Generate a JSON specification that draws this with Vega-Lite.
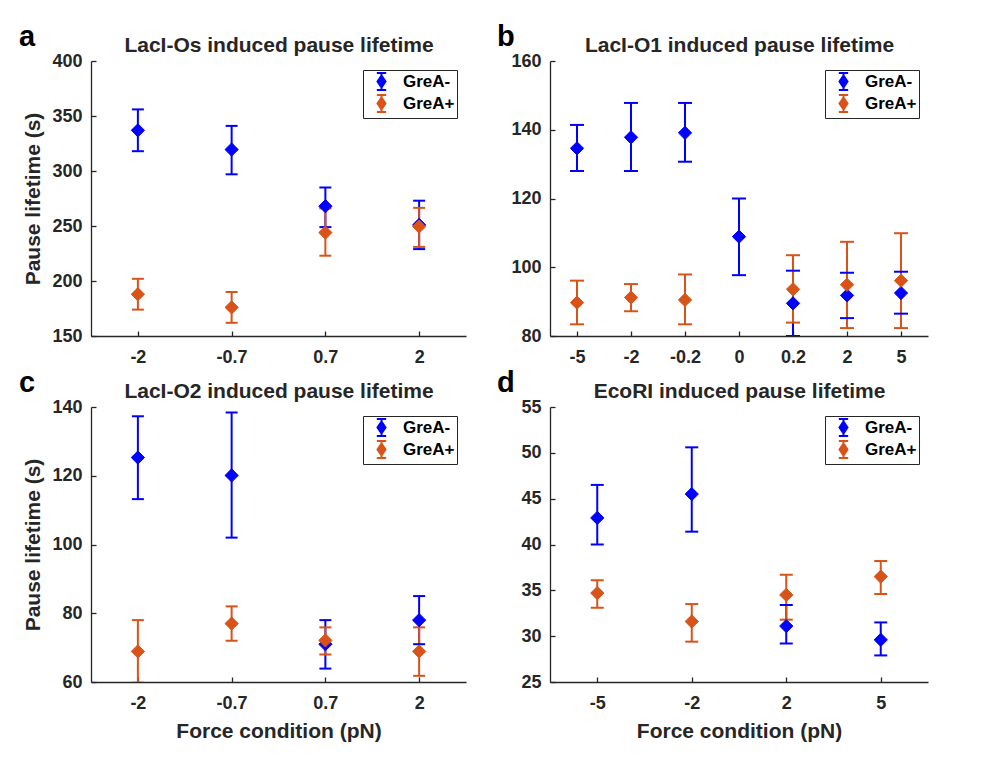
{
  "$schema": "https://vega.github.io/schema/vega-lite/v6.json",
  "background": "white",
  "padding": {"left": 19, "top": 23, "right": 5, "bottom": 5},
  "datasets": {
    "all": [
      {"panel": "a", "group": "GreA-", "force": "-2", "mean": 337, "lo": 318, "hi": 356},
      {"panel": "a", "group": "GreA-", "force": "-0.7", "mean": 319.5, "lo": 297, "hi": 341},
      {"panel": "a", "group": "GreA-", "force": "0.7", "mean": 268, "lo": 249, "hi": 285},
      {"panel": "a", "group": "GreA-", "force": "2", "mean": 251, "lo": 229, "hi": 273},
      {"panel": "a", "group": "GreA+", "force": "-2", "mean": 188, "lo": 174, "hi": 202},
      {"panel": "a", "group": "GreA+", "force": "-0.7", "mean": 176, "lo": 162, "hi": 190},
      {"panel": "a", "group": "GreA+", "force": "0.7", "mean": 244, "lo": 223, "hi": 266},
      {"panel": "a", "group": "GreA+", "force": "2", "mean": 249.5, "lo": 231, "hi": 266.5},
      {"panel": "b", "group": "GreA-", "force": "-5", "mean": 134.6, "lo": 128, "hi": 141.4},
      {"panel": "b", "group": "GreA-", "force": "-2", "mean": 137.8, "lo": 128, "hi": 147.8},
      {"panel": "b", "group": "GreA-", "force": "-0.2", "mean": 139.1, "lo": 130.7, "hi": 147.8},
      {"panel": "b", "group": "GreA-", "force": "0", "mean": 108.9, "lo": 97.7, "hi": 120},
      {"panel": "b", "group": "GreA-", "force": "0.2", "mean": 89.5, "lo": 80, "hi": 99},
      {"panel": "b", "group": "GreA-", "force": "2", "mean": 91.8, "lo": 85.2, "hi": 98.4},
      {"panel": "b", "group": "GreA-", "force": "5", "mean": 92.5, "lo": 86.5, "hi": 98.7},
      {"panel": "b", "group": "GreA+", "force": "-5", "mean": 89.7, "lo": 83.4, "hi": 96.1},
      {"panel": "b", "group": "GreA+", "force": "-2", "mean": 91.2, "lo": 87.2, "hi": 95.1},
      {"panel": "b", "group": "GreA+", "force": "-0.2", "mean": 90.5, "lo": 83.4, "hi": 97.9},
      {"panel": "b", "group": "GreA+", "force": "0.2", "mean": 93.6, "lo": 83.9, "hi": 103.5},
      {"panel": "b", "group": "GreA+", "force": "2", "mean": 94.9, "lo": 82.3, "hi": 107.4},
      {"panel": "b", "group": "GreA+", "force": "5", "mean": 96.1, "lo": 82.3, "hi": 109.9},
      {"panel": "c", "group": "GreA-", "force": "-2", "mean": 125.3, "lo": 113.2, "hi": 137.3},
      {"panel": "c", "group": "GreA-", "force": "-0.7", "mean": 120.1, "lo": 102, "hi": 138.4},
      {"panel": "c", "group": "GreA-", "force": "0.7", "mean": 71, "lo": 63.9, "hi": 78},
      {"panel": "c", "group": "GreA-", "force": "2", "mean": 78, "lo": 71, "hi": 85},
      {"panel": "c", "group": "GreA+", "force": "-2", "mean": 68.9, "lo": 59.8, "hi": 78},
      {"panel": "c", "group": "GreA+", "force": "-0.7", "mean": 77, "lo": 72, "hi": 82},
      {"panel": "c", "group": "GreA+", "force": "0.7", "mean": 72.1, "lo": 68, "hi": 75.9},
      {"panel": "c", "group": "GreA+", "force": "2", "mean": 68.9, "lo": 61.8, "hi": 75.9},
      {"panel": "d", "group": "GreA-", "force": "-5", "mean": 42.9, "lo": 40, "hi": 46.5},
      {"panel": "d", "group": "GreA-", "force": "-2", "mean": 45.5, "lo": 41.4, "hi": 50.6},
      {"panel": "d", "group": "GreA-", "force": "2", "mean": 31.1, "lo": 29.2, "hi": 33.4},
      {"panel": "d", "group": "GreA-", "force": "5", "mean": 29.6, "lo": 27.9, "hi": 31.5},
      {"panel": "d", "group": "GreA+", "force": "-5", "mean": 34.7, "lo": 33.1, "hi": 36.1},
      {"panel": "d", "group": "GreA+", "force": "-2", "mean": 31.6, "lo": 29.4, "hi": 33.5},
      {"panel": "d", "group": "GreA+", "force": "2", "mean": 34.5, "lo": 31.8, "hi": 36.7},
      {"panel": "d", "group": "GreA+", "force": "5", "mean": 36.5, "lo": 34.6, "hi": 38.2}
    ]
  },
  "data": {"name": "all"},
  "columns": 2,
  "bounds": "flush",
  "spacing": {"column": 84, "row": 71},
  "resolve": {
    "scale": {"x": "independent", "y": "independent", "fill": "independent", "stroke": "independent"},
    "legend": {"fill": "independent", "stroke": "independent"}
  },
  "concat": [
    {
      "width": 375, "height": 275,
      "title": {"text": "a", "dx": -72},
      "transform": [{"filter": "datum.panel === 'a'"}],
      "resolve": {"axis": {"x": "independent"}},
      "layer": [
        {"mark": {"type": "rule", "strokeWidth": 2, "clip": true},
         "encoding": {
           "x": {"field": "force", "type": "ordinal", "sort": ["-2", "-0.7", "0.7", "2"], "scale": {"type": "point", "padding": 0.5},
                 "axis": {"orient": "top", "domain": false, "ticks": false, "labels": false, "title": "LacI-Os induced pause lifetime", "titlePadding": 6}},
           "y": {"field": "lo", "type": "quantitative", "title": "Pause lifetime (s)", "scale": {"domain": [150, 400], "nice": false, "zero": false}, "axis": {"values": [150, 200, 250, 300, 350, 400]}},
           "y2": {"field": "hi"},
           "stroke": {"field": "group", "type": "nominal", "scale": {"domain": ["GreA-", "GreA+"], "range": ["#0000ff", "#d95319"]},
                      "legend": {"title": null, "orient": "top-right", "offset": 9, "symbolType": "M-0.55,-1H0.55M0,-1V1M-0.55,1H0.55M0,-0.7L0.47,0L0,0.7L-0.47,0Z"}}}},
        {"mark": {"type": "tick", "thickness": 2, "size": 12, "opacity": 1, "clip": true},
         "encoding": {
           "x": {"field": "force", "type": "ordinal", "sort": ["-2", "-0.7", "0.7", "2"], "scale": {"type": "point", "padding": 0.5}, "axis": {"title": null}},
           "y": {"field": "lo", "type": "quantitative", "title": "Pause lifetime (s)", "scale": {"domain": [150, 400], "nice": false, "zero": false}, "axis": {"values": [150, 200, 250, 300, 350, 400]}},
           "fill": {"field": "group", "type": "nominal", "scale": {"domain": ["GreA-", "GreA+"], "range": ["#0000ff", "#d95319"]},
                    "legend": {"title": null, "orient": "top-right", "offset": 9, "symbolType": "M-0.55,-1H0.55M0,-1V1M-0.55,1H0.55M0,-0.7L0.47,0L0,0.7L-0.47,0Z"}}}},
        {"mark": {"type": "tick", "thickness": 2, "size": 12, "opacity": 1, "clip": true},
         "encoding": {
           "x": {"field": "force", "type": "ordinal", "sort": ["-2", "-0.7", "0.7", "2"], "scale": {"type": "point", "padding": 0.5}, "axis": null},
           "y": {"field": "hi", "type": "quantitative", "title": "Pause lifetime (s)", "scale": {"domain": [150, 400], "nice": false, "zero": false}, "axis": {"values": [150, 200, 250, 300, 350, 400]}},
           "fill": {"field": "group", "type": "nominal", "scale": {"domain": ["GreA-", "GreA+"], "range": ["#0000ff", "#d95319"]},
                    "legend": {"title": null, "orient": "top-right", "offset": 9, "symbolType": "M-0.55,-1H0.55M0,-1V1M-0.55,1H0.55M0,-0.7L0.47,0L0,0.7L-0.47,0Z"}}}},
        {"mark": {"type": "point", "shape": "diamond", "size": 175, "opacity": 1, "strokeWidth": 1},
         "encoding": {
           "x": {"field": "force", "type": "ordinal", "sort": ["-2", "-0.7", "0.7", "2"], "scale": {"type": "point", "padding": 0.5}, "axis": null},
           "y": {"field": "mean", "type": "quantitative", "title": "Pause lifetime (s)", "scale": {"domain": [150, 400], "nice": false, "zero": false}, "axis": {"values": [150, 200, 250, 300, 350, 400]}},
           "fill": {"field": "group", "type": "nominal", "scale": {"domain": ["GreA-", "GreA+"], "range": ["#0000ff", "#d95319"]},
                    "legend": {"title": null, "orient": "top-right", "offset": 9, "symbolType": "M-0.55,-1H0.55M0,-1V1M-0.55,1H0.55M0,-0.7L0.47,0L0,0.7L-0.47,0Z"}},
           "stroke": {"field": "group", "type": "nominal", "scale": {"domain": ["GreA-", "GreA+"], "range": ["#0000ff", "#d95319"]},
                    "legend": {"title": null, "orient": "top-right", "offset": 9, "symbolType": "M-0.55,-1H0.55M0,-1V1M-0.55,1H0.55M0,-0.7L0.47,0L0,0.7L-0.47,0Z"}}}}
      ]
    },
    {
      "width": 378, "height": 275,
      "title": {"text": "b", "dx": -53},
      "transform": [{"filter": "datum.panel === 'b'"}],
      "resolve": {"axis": {"x": "independent"}},
      "layer": [
        {"mark": {"type": "rule", "strokeWidth": 2, "clip": true},
         "encoding": {
           "x": {"field": "force", "type": "ordinal", "sort": ["-5", "-2", "-0.2", "0", "0.2", "2", "5"], "scale": {"type": "point", "padding": 0.5},
                 "axis": {"orient": "top", "domain": false, "ticks": false, "labels": false, "title": "LacI-O1 induced pause lifetime", "titlePadding": 6}},
           "y": {"field": "lo", "type": "quantitative", "title": null, "scale": {"domain": [80, 160], "nice": false, "zero": false}, "axis": {"values": [80, 100, 120, 140, 160]}},
           "y2": {"field": "hi"},
           "stroke": {"field": "group", "type": "nominal", "scale": {"domain": ["GreA-", "GreA+"], "range": ["#0000ff", "#d95319"]},
                      "legend": {"title": null, "orient": "top-right", "offset": 9, "symbolType": "M-0.55,-1H0.55M0,-1V1M-0.55,1H0.55M0,-0.7L0.47,0L0,0.7L-0.47,0Z"}}}},
        {"mark": {"type": "tick", "thickness": 2, "size": 14, "opacity": 1, "clip": true},
         "encoding": {
           "x": {"field": "force", "type": "ordinal", "sort": ["-5", "-2", "-0.2", "0", "0.2", "2", "5"], "scale": {"type": "point", "padding": 0.5}, "axis": {"title": null}},
           "y": {"field": "lo", "type": "quantitative", "title": null, "scale": {"domain": [80, 160], "nice": false, "zero": false}, "axis": {"values": [80, 100, 120, 140, 160]}},
           "fill": {"field": "group", "type": "nominal", "scale": {"domain": ["GreA-", "GreA+"], "range": ["#0000ff", "#d95319"]},
                    "legend": {"title": null, "orient": "top-right", "offset": 9, "symbolType": "M-0.55,-1H0.55M0,-1V1M-0.55,1H0.55M0,-0.7L0.47,0L0,0.7L-0.47,0Z"}}}},
        {"mark": {"type": "tick", "thickness": 2, "size": 14, "opacity": 1, "clip": true},
         "encoding": {
           "x": {"field": "force", "type": "ordinal", "sort": ["-5", "-2", "-0.2", "0", "0.2", "2", "5"], "scale": {"type": "point", "padding": 0.5}, "axis": null},
           "y": {"field": "hi", "type": "quantitative", "title": null, "scale": {"domain": [80, 160], "nice": false, "zero": false}, "axis": {"values": [80, 100, 120, 140, 160]}},
           "fill": {"field": "group", "type": "nominal", "scale": {"domain": ["GreA-", "GreA+"], "range": ["#0000ff", "#d95319"]},
                    "legend": {"title": null, "orient": "top-right", "offset": 9, "symbolType": "M-0.55,-1H0.55M0,-1V1M-0.55,1H0.55M0,-0.7L0.47,0L0,0.7L-0.47,0Z"}}}},
        {"mark": {"type": "point", "shape": "diamond", "size": 175, "opacity": 1, "strokeWidth": 1},
         "encoding": {
           "x": {"field": "force", "type": "ordinal", "sort": ["-5", "-2", "-0.2", "0", "0.2", "2", "5"], "scale": {"type": "point", "padding": 0.5}, "axis": null},
           "y": {"field": "mean", "type": "quantitative", "title": null, "scale": {"domain": [80, 160], "nice": false, "zero": false}, "axis": {"values": [80, 100, 120, 140, 160]}},
           "fill": {"field": "group", "type": "nominal", "scale": {"domain": ["GreA-", "GreA+"], "range": ["#0000ff", "#d95319"]},
                    "legend": {"title": null, "orient": "top-right", "offset": 9, "symbolType": "M-0.55,-1H0.55M0,-1V1M-0.55,1H0.55M0,-0.7L0.47,0L0,0.7L-0.47,0Z"}},
           "stroke": {"field": "group", "type": "nominal", "scale": {"domain": ["GreA-", "GreA+"], "range": ["#0000ff", "#d95319"]},
                    "legend": {"title": null, "orient": "top-right", "offset": 9, "symbolType": "M-0.55,-1H0.55M0,-1V1M-0.55,1H0.55M0,-0.7L0.47,0L0,0.7L-0.47,0Z"}}}}
      ]
    },
    {
      "width": 375, "height": 275,
      "title": {"text": "c", "dx": -72},
      "transform": [{"filter": "datum.panel === 'c'"}],
      "resolve": {"axis": {"x": "independent"}},
      "layer": [
        {"mark": {"type": "rule", "strokeWidth": 2, "clip": true},
         "encoding": {
           "x": {"field": "force", "type": "ordinal", "sort": ["-2", "-0.7", "0.7", "2"], "scale": {"type": "point", "padding": 0.5},
                 "axis": {"orient": "top", "domain": false, "ticks": false, "labels": false, "title": "LacI-O2 induced pause lifetime", "titlePadding": 6}},
           "y": {"field": "lo", "type": "quantitative", "title": "Pause lifetime (s)", "scale": {"domain": [60, 140], "nice": false, "zero": false}, "axis": {"values": [60, 80, 100, 120, 140]}},
           "y2": {"field": "hi"},
           "stroke": {"field": "group", "type": "nominal", "scale": {"domain": ["GreA-", "GreA+"], "range": ["#0000ff", "#d95319"]},
                      "legend": {"title": null, "orient": "top-right", "offset": 9, "symbolType": "M-0.55,-1H0.55M0,-1V1M-0.55,1H0.55M0,-0.7L0.47,0L0,0.7L-0.47,0Z"}}}},
        {"mark": {"type": "tick", "thickness": 2, "size": 12, "opacity": 1, "clip": true},
         "encoding": {
           "x": {"field": "force", "type": "ordinal", "sort": ["-2", "-0.7", "0.7", "2"], "scale": {"type": "point", "padding": 0.5}, "axis": {"title": "Force condition (pN)"}},
           "y": {"field": "lo", "type": "quantitative", "title": "Pause lifetime (s)", "scale": {"domain": [60, 140], "nice": false, "zero": false}, "axis": {"values": [60, 80, 100, 120, 140]}},
           "fill": {"field": "group", "type": "nominal", "scale": {"domain": ["GreA-", "GreA+"], "range": ["#0000ff", "#d95319"]},
                    "legend": {"title": null, "orient": "top-right", "offset": 9, "symbolType": "M-0.55,-1H0.55M0,-1V1M-0.55,1H0.55M0,-0.7L0.47,0L0,0.7L-0.47,0Z"}}}},
        {"mark": {"type": "tick", "thickness": 2, "size": 12, "opacity": 1, "clip": true},
         "encoding": {
           "x": {"field": "force", "type": "ordinal", "sort": ["-2", "-0.7", "0.7", "2"], "scale": {"type": "point", "padding": 0.5}, "axis": null},
           "y": {"field": "hi", "type": "quantitative", "title": "Pause lifetime (s)", "scale": {"domain": [60, 140], "nice": false, "zero": false}, "axis": {"values": [60, 80, 100, 120, 140]}},
           "fill": {"field": "group", "type": "nominal", "scale": {"domain": ["GreA-", "GreA+"], "range": ["#0000ff", "#d95319"]},
                    "legend": {"title": null, "orient": "top-right", "offset": 9, "symbolType": "M-0.55,-1H0.55M0,-1V1M-0.55,1H0.55M0,-0.7L0.47,0L0,0.7L-0.47,0Z"}}}},
        {"mark": {"type": "point", "shape": "diamond", "size": 175, "opacity": 1, "strokeWidth": 1},
         "encoding": {
           "x": {"field": "force", "type": "ordinal", "sort": ["-2", "-0.7", "0.7", "2"], "scale": {"type": "point", "padding": 0.5}, "axis": null},
           "y": {"field": "mean", "type": "quantitative", "title": "Pause lifetime (s)", "scale": {"domain": [60, 140], "nice": false, "zero": false}, "axis": {"values": [60, 80, 100, 120, 140]}},
           "fill": {"field": "group", "type": "nominal", "scale": {"domain": ["GreA-", "GreA+"], "range": ["#0000ff", "#d95319"]},
                    "legend": {"title": null, "orient": "top-right", "offset": 9, "symbolType": "M-0.55,-1H0.55M0,-1V1M-0.55,1H0.55M0,-0.7L0.47,0L0,0.7L-0.47,0Z"}},
           "stroke": {"field": "group", "type": "nominal", "scale": {"domain": ["GreA-", "GreA+"], "range": ["#0000ff", "#d95319"]},
                    "legend": {"title": null, "orient": "top-right", "offset": 9, "symbolType": "M-0.55,-1H0.55M0,-1V1M-0.55,1H0.55M0,-0.7L0.47,0L0,0.7L-0.47,0Z"}}}}
      ]
    },
    {
      "width": 378, "height": 275,
      "title": {"text": "d", "dx": -53},
      "transform": [{"filter": "datum.panel === 'd'"}],
      "resolve": {"axis": {"x": "independent"}},
      "layer": [
        {"mark": {"type": "rule", "strokeWidth": 2, "clip": true},
         "encoding": {
           "x": {"field": "force", "type": "ordinal", "sort": ["-5", "-2", "2", "5"], "scale": {"type": "point", "padding": 0.5},
                 "axis": {"orient": "top", "domain": false, "ticks": false, "labels": false, "title": "EcoRI induced pause lifetime", "titlePadding": 6}},
           "y": {"field": "lo", "type": "quantitative", "title": null, "scale": {"domain": [25, 55], "nice": false, "zero": false}, "axis": {"values": [25, 30, 35, 40, 45, 50, 55]}},
           "y2": {"field": "hi"},
           "stroke": {"field": "group", "type": "nominal", "scale": {"domain": ["GreA-", "GreA+"], "range": ["#0000ff", "#d95319"]},
                      "legend": {"title": null, "orient": "top-right", "offset": 9, "symbolType": "M-0.55,-1H0.55M0,-1V1M-0.55,1H0.55M0,-0.7L0.47,0L0,0.7L-0.47,0Z"}}}},
        {"mark": {"type": "tick", "thickness": 2, "size": 13, "opacity": 1, "clip": true},
         "encoding": {
           "x": {"field": "force", "type": "ordinal", "sort": ["-5", "-2", "2", "5"], "scale": {"type": "point", "padding": 0.5}, "axis": {"title": "Force condition (pN)"}},
           "y": {"field": "lo", "type": "quantitative", "title": null, "scale": {"domain": [25, 55], "nice": false, "zero": false}, "axis": {"values": [25, 30, 35, 40, 45, 50, 55]}},
           "fill": {"field": "group", "type": "nominal", "scale": {"domain": ["GreA-", "GreA+"], "range": ["#0000ff", "#d95319"]},
                    "legend": {"title": null, "orient": "top-right", "offset": 9, "symbolType": "M-0.55,-1H0.55M0,-1V1M-0.55,1H0.55M0,-0.7L0.47,0L0,0.7L-0.47,0Z"}}}},
        {"mark": {"type": "tick", "thickness": 2, "size": 13, "opacity": 1, "clip": true},
         "encoding": {
           "x": {"field": "force", "type": "ordinal", "sort": ["-5", "-2", "2", "5"], "scale": {"type": "point", "padding": 0.5}, "axis": null},
           "y": {"field": "hi", "type": "quantitative", "title": null, "scale": {"domain": [25, 55], "nice": false, "zero": false}, "axis": {"values": [25, 30, 35, 40, 45, 50, 55]}},
           "fill": {"field": "group", "type": "nominal", "scale": {"domain": ["GreA-", "GreA+"], "range": ["#0000ff", "#d95319"]},
                    "legend": {"title": null, "orient": "top-right", "offset": 9, "symbolType": "M-0.55,-1H0.55M0,-1V1M-0.55,1H0.55M0,-0.7L0.47,0L0,0.7L-0.47,0Z"}}}},
        {"mark": {"type": "point", "shape": "diamond", "size": 175, "opacity": 1, "strokeWidth": 1},
         "encoding": {
           "x": {"field": "force", "type": "ordinal", "sort": ["-5", "-2", "2", "5"], "scale": {"type": "point", "padding": 0.5}, "axis": null},
           "y": {"field": "mean", "type": "quantitative", "title": null, "scale": {"domain": [25, 55], "nice": false, "zero": false}, "axis": {"values": [25, 30, 35, 40, 45, 50, 55]}},
           "fill": {"field": "group", "type": "nominal", "scale": {"domain": ["GreA-", "GreA+"], "range": ["#0000ff", "#d95319"]},
                    "legend": {"title": null, "orient": "top-right", "offset": 9, "symbolType": "M-0.55,-1H0.55M0,-1V1M-0.55,1H0.55M0,-0.7L0.47,0L0,0.7L-0.47,0Z"}},
           "stroke": {"field": "group", "type": "nominal", "scale": {"domain": ["GreA-", "GreA+"], "range": ["#0000ff", "#d95319"]},
                    "legend": {"title": null, "orient": "top-right", "offset": 9, "symbolType": "M-0.55,-1H0.55M0,-1V1M-0.55,1H0.55M0,-0.7L0.47,0L0,0.7L-0.47,0Z"}}}}
      ]
    }
  ],
  "config": {
    "font": "Liberation Sans",
    "view": {"stroke": null},
    "axis": {
      "grid": false,
      "domainColor": "#262626", "domainWidth": 1.3,
      "tickColor": "#262626", "tickWidth": 1.3, "tickSize": -5,
      "labelFontSize": 18, "labelFontWeight": "bold", "labelColor": "#262626",
      "titleFontSize": 21, "titleFontWeight": "bold", "titleColor": "#262626"
    },
    "axisX": {"labelPadding": 17, "labelAngle": 0, "titlePadding": 8},
    "axisY": {"labelPadding": 14, "titlePadding": 8},
    "title": {"anchor": "start", "frame": "group", "fontSize": 29, "fontWeight": "bold", "baseline": "alphabetic", "offset": 0, "dy": 22, "color": "#000000"},
    "legend": {
      "strokeColor": "#262626", "fillColor": "white", "padding": 2,
      "symbolSize": 289, "symbolStrokeWidth": 2, "symbolOffset": 7,
      "labelOffset": 12, "labelFontSize": 17, "labelFontWeight": "bold", "labelColor": "#000000",
      "rowPadding": -5
    }
  }
}
